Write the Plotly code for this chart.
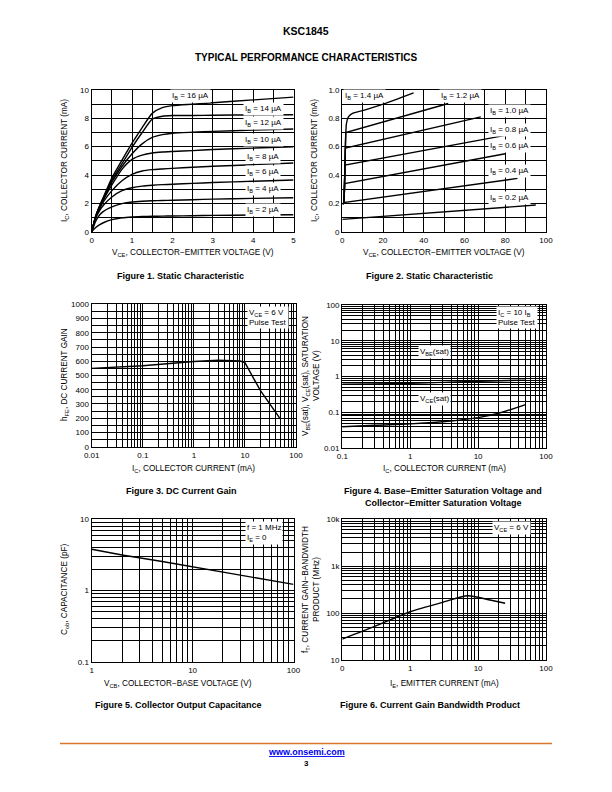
import plotly.graph_objects as go
import math

# ---------------- DATA ----------------
# Figure 1: Static characteristic (IC vs VCE, low voltage)
vce1 = [0, 0.1, 0.2, 0.3, 0.5, 0.75, 1.0, 1.25, 1.5, 1.75, 2.0, 2.5, 3, 4, 5]
ic1_16 = [0, 1.1, 1.85, 2.5, 3.8, 5.05, 6.25, 7.35, 8.35, 8.75, 8.9, 9.0, 9.1, 9.3, 9.5]
ic1_14 = [0, 1.1, 1.85, 2.45, 3.65, 4.8, 5.95, 7.0, 7.95, 8.15, 8.2, 8.2, 8.22, 8.24, 8.25]
ic1_12 = [0, 1.1, 1.8, 2.4, 3.5, 4.6, 5.5, 6.2, 6.65, 6.85, 6.95, 7.02, 7.08, 7.17, 7.25]
ic1_10 = [0, 1.1, 1.75, 2.3, 3.3, 4.4, 5.1, 5.4, 5.55, 5.62, 5.66, 5.72, 5.8, 5.9, 6.0]
ic1_8 = [0, 1.05, 1.65, 2.15, 2.9, 3.6, 4.05, 4.28, 4.38, 4.43, 4.47, 4.55, 4.62, 4.73, 4.85]
ic1_6 = [0, 0.95, 1.5, 1.9, 2.45, 2.9, 3.1, 3.22, 3.28, 3.32, 3.35, 3.41, 3.47, 3.56, 3.65]
ic1_4 = [0, 0.75, 1.2, 1.45, 1.75, 1.98, 2.1, 2.15, 2.18, 2.2, 2.22, 2.26, 2.3, 2.35, 2.4]
ic1_2 = [0, 0.3, 0.5, 0.65, 0.85, 0.98, 1.04, 1.07, 1.09, 1.1, 1.11, 1.13, 1.15, 1.18, 1.2]
ib1_labels = ["16", "14", "12", "10", "8", "6", "4", "2"]
ib1_label_y = [9.6, 8.66, 7.7, 6.5, 5.3, 4.2, 3.0, 1.55]

# Figure 2: Static characteristic (IC vs VCE, high voltage)
vce2_02 = [0, 95]
ic2_02 = [0.087, 0.188]
vce2_04 = [0.3, 0.6, 86]
ic2_04 = [0.19, 0.205, 0.376]
vce2_06 = [0.8, 1.2, 80]
ic2_06 = [0.21, 0.34, 0.55]
vce2_08 = [0.8, 1.3, 80]
ic2_08 = [0.21, 0.47, 0.68]
vce2_10 = [0.9, 1.5, 68]
ic2_10 = [0.21, 0.59, 0.81]
vce2_12 = [0.9, 1.7, 52]
ic2_12 = [0.21, 0.70, 0.905]
vce2_14 = [0.9, 1.5, 2, 3, 5, 10, 20, 35]
ic2_14 = [0.21, 0.6, 0.76, 0.81, 0.835, 0.855, 0.9, 0.98]
ib2_labels = ["1.4", "1.2", "1.0", "0.8", "0.6", "0.4", "0.2"]
ib2_label_x = [11, 58, 82, 82, 82, 82, 82]
ib2_label_y = [0.96, 0.96, 0.855, 0.72, 0.607, 0.43, 0.235]

# Figure 3: DC current gain
ic3 = [0.01, 0.1, 1, 3, 8, 10, 20, 48]
hfe3 = [550, 568, 598, 607, 602, 590, 395, 200]

# Figure 4: saturation voltages
ic4 = [0.1, 0.3, 1, 3, 10, 20, 50]
vbe4 = [0.62, 0.63, 0.65, 0.69, 0.74, 0.77, 0.80]
vce4 = [0.040, 0.044, 0.048, 0.055, 0.072, 0.095, 0.165]

# Figure 5: collector output capacitance
vcb5 = [1, 2, 5, 10, 20, 50, 100]
cob5 = [3.8, 3.15, 2.55, 2.15, 1.8, 1.45, 1.22]

# Figure 6: current gain bandwidth product
ie6 = [0.1, 0.3, 1, 3, 7, 15, 25]
ft6 = [28, 52, 107, 170, 235, 190, 162]

# Tick labels
x1_ticks = [0, 1, 2, 3, 4, 5]
y1_ticks = [0, 2, 4, 6, 8, 10]
x2_ticks = [0, 20, 40, 60, 80, 100]
y2_ticks = [0, 0.2, 0.4, 0.6, 0.8, 1.0]
y3_ticks = list(range(0, 1001, 100))
x6_ticktext = ["0", "1", "10", "100"]
y6_ticktext = ["10", "100", "1k", "10k"]

# ---------------- HELPERS ----------------
W, H = 600, 780      # figure size; page body adds an 8 px offset
OFF = 8
FONT = "Liberation Sans, Arial, Helvetica, sans-serif"


def px(x):
    return (x - OFF) / W


def py(y):
    return 1 - (y - OFF) / H


def linear_grid(lo, hi, step, label_vals, fmt):
    vals, txt = [], []
    n = int(round((hi - lo) / step))
    for i in range(n + 1):
        v = round(lo + i * step, 6)
        vals.append(v)
        lab = ""
        for lv in label_vals:
            if abs(lv - v) < 1e-9:
                lab = fmt(lv)
        txt.append(lab)
    return vals, txt


def log_grid(lo_exp, hi_exp, texts=None):
    vals, txt = [], []
    k = 0
    for e in range(lo_exp, hi_exp + 1):
        for m in range(1, 10):
            if e == hi_exp and m > 1:
                break
            v = m * 10 ** e
            vals.append(float(f"{v:.6g}"))
            if m == 1:
                if texts is not None:
                    txt.append(texts[k])
                else:
                    txt.append(f"{v:g}")
                k += 1
            else:
                txt.append("")
    return vals, txt


def axis(domain, anchor, tickvals, ticktext, rng, typ="linear"):
    return dict(
        domain=domain, anchor=anchor, type=typ, range=rng,
        tickmode="array", tickvals=tickvals, ticktext=ticktext,
        showgrid=True, gridcolor="black", gridwidth=0.9,
        showline=True, linecolor="black", linewidth=1.4, mirror=True,
        zeroline=False, ticks="", ticklen=0,
        tickfont=dict(family=FONT, size=8, color="black"),
        automargin=False, fixedrange=True,
    )


fig = go.Figure()
line = dict(color="black", width=1.4)

# Figure 1 traces
for ys in [ic1_16, ic1_14, ic1_12, ic1_10, ic1_8, ic1_6, ic1_4, ic1_2]:
    fig.add_trace(go.Scatter(x=vce1, y=ys, mode="lines", line=dict(line, shape="spline", smoothing=0.6),
                             xaxis="x", yaxis="y", showlegend=False, hoverinfo="skip"))
# Figure 2 traces
for xs, ys in [(vce2_02, ic2_02), (vce2_04, ic2_04), (vce2_06, ic2_06), (vce2_08, ic2_08),
               (vce2_10, ic2_10), (vce2_12, ic2_12)]:
    fig.add_trace(go.Scatter(x=xs, y=ys, mode="lines", line=line,
                             xaxis="x2", yaxis="y2", showlegend=False, hoverinfo="skip"))
fig.add_trace(go.Scatter(x=vce2_14, y=ic2_14, mode="lines", line=dict(line, shape="spline", smoothing=0.5),
                         xaxis="x2", yaxis="y2", showlegend=False, hoverinfo="skip"))
# Figure 3
fig.add_trace(go.Scatter(x=ic3, y=hfe3, mode="lines", line=line,
                         xaxis="x3", yaxis="y3", showlegend=False, hoverinfo="skip"))
# Figure 4
fig.add_trace(go.Scatter(x=ic4, y=vbe4, mode="lines", line=dict(line, shape="spline"),
                         xaxis="x4", yaxis="y4", showlegend=False, hoverinfo="skip"))
fig.add_trace(go.Scatter(x=ic4, y=vce4, mode="lines", line=dict(line, shape="spline"),
                         xaxis="x4", yaxis="y4", showlegend=False, hoverinfo="skip"))
# Figure 5
fig.add_trace(go.Scatter(x=vcb5, y=cob5, mode="lines", line=line,
                         xaxis="x5", yaxis="y5", showlegend=False, hoverinfo="skip"))
# Figure 6
fig.add_trace(go.Scatter(x=ie6, y=ft6, mode="lines", line=dict(line, shape="spline", smoothing=0.6),
                         xaxis="x6", yaxis="y6", showlegend=False, hoverinfo="skip"))

# Domains (pixel boxes on the page)
L1, R1 = 91.7, 293.5
L2, R2 = 342.3, 546
d_row1 = [py(231.7), py(90)]
d_row2a = [py(446.7), py(304.3)]
d_row2b = [py(448.3), py(305)]
d_row3a = [py(661.7), py(519.3)]
d_row3b = [py(660), py(519.3)]

xv, xt = linear_grid(0, 5, 0.5, x1_ticks, lambda v: f"{v:g}")
yv, yt = linear_grid(0, 10, 1, y1_ticks, lambda v: f"{v:g}")
x2v, x2t = linear_grid(0, 100, 10, x2_ticks, lambda v: f"{v:g}")
y2v, y2t = linear_grid(0, 1.0, 0.1, y2_ticks, lambda v: "0" if v == 0 else f"{v:.1f}")
x3v, x3t = log_grid(-2, 2)
y3v, y3t = linear_grid(0, 1000, 50, y3_ticks, lambda v: f"{v:g}")
x4v, x4t = log_grid(-1, 2)
y4v, y4t = log_grid(-2, 2)
x5v, x5t = log_grid(0, 2)
y5v, y5t = log_grid(-1, 1)
x6v, x6t = log_grid(-1, 2, x6_ticktext)
y6v, y6t = log_grid(1, 4, y6_ticktext)

fig.update_layout(
    width=W, height=H, margin=dict(l=0, r=0, t=0, b=0),
    paper_bgcolor="white", plot_bgcolor="white",
    font=dict(family=FONT, color="black"),
    xaxis=axis([px(L1), px(R1)], "y", xv, xt, [0, 5]),
    yaxis=axis(d_row1, "x", yv, yt, [0, 10]),
    xaxis2=axis([px(L2), px(R2)], "y2", x2v, x2t, [0, 100]),
    yaxis2=axis(d_row1, "x2", y2v, y2t, [0, 1.0]),
    xaxis3=axis([px(L1), px(296)], "y3", x3v, x3t, [-2, 2], "log"),
    yaxis3=axis(d_row2a, "x3", y3v, y3t, [0, 1000]),
    xaxis4=axis([px(L2), px(R2)], "y4", x4v, x4t, [-1, 2], "log"),
    yaxis4=axis(d_row2b, "x4", y4v, y4t, [-2, 2], "log"),
    xaxis5=axis([px(L1), px(R1)], "y5", x5v, x5t, [0, 2], "log"),
    yaxis5=axis(d_row3a, "x5", y5v, y5t, [-1, 1], "log"),
    xaxis6=axis([px(L2), px(R2)], "y6", x6v, x6t, [-1, 2], "log"),
    yaxis6=axis(d_row3b, "x6", y6v, y6t, [1, 4], "log"),
)

ann = []
TF = dict(family=FONT, size=8, color="black")
AX = 8.2     # axis title size
CAP = 9      # caption size


def txt(x, y, text, size=AX, bold=False, angle=0, xanchor="center", yanchor="middle", color="black", align="center"):
    t = f"<b>{text}</b>" if bold else text
    ann.append(dict(x=px(x), y=py(y), xref="paper", yref="paper", text=t, showarrow=False,
                    font=dict(family=FONT, size=size, color=color), textangle=angle,
                    xanchor=xanchor, yanchor=yanchor, align=align))


def lab(x, y, xr, yr, text, xanchor="center", yanchor="middle", align="center"):
    ann.append(dict(x=x, y=y, xref=xr, yref=yr, text=text, showarrow=False, font=TF,
                    bgcolor="white", borderpad=1, xanchor=xanchor, yanchor=yanchor, align=align))


# Header
txt(306, 31, "KSC1845", size=10.5, bold=True)
txt(306, 57, "TYPICAL PERFORMANCE CHARACTERISTICS", size=10, bold=True)

# Figure 1 texts
for i, (t, yy) in enumerate(zip(ib1_labels, ib1_label_y)):
    xx = 2.45 if i == 0 else 4.25
    lab(xx, yy, "x", "y", f"I<sub>B</sub> = {t} µA")
txt(193, 253, "V<sub>CE</sub>, COLLECTOR−EMITTER VOLTAGE (V)")
txt(65, 161, "I<sub>C</sub>, COLLECTOR CURRENT (mA)", angle=-90)
txt(180, 276, "Figure 1. Static Characteristic", size=CAP, bold=True)

# Figure 2 texts
for t, xx, yy in zip(ib2_labels, ib2_label_x, ib2_label_y):
    lab(xx, yy, "x2", "y2", f"I<sub>B</sub> = {t} µA")
txt(444, 253, "V<sub>CE</sub>, COLLECTOR−EMITTER VOLTAGE (V)")
txt(315, 161, "I<sub>C</sub>, COLLECTOR CURRENT (mA)", angle=-90)
txt(429, 276, "Figure 2. Static Characteristic", size=CAP, bold=True)

# Figure 3 texts
lab(math.log10(11), 985, "x3", "y3", "V<sub>CE</sub> = 6 V<br>Pulse Test", xanchor="left", yanchor="top", align="left")
txt(193, 469, "I<sub>C</sub>, COLLECTOR CURRENT (mA)")
txt(65, 375, "h<sub>FE</sub>, DC CURRENT GAIN", angle=-90)
txt(181, 491, "Figure 3. DC Current Gain", size=CAP, bold=True)

# Figure 4 texts
lab(1.27, 1.98, "x4", "y4", "I<sub>C</sub> = 10 I<sub>B</sub><br>Pulse Test", xanchor="left", yanchor="top", align="left")
lab(0.36, 0.70, "x4", "y4", "V<sub>BE</sub>(sat)")
lab(0.36, -0.62, "x4", "y4", "V<sub>CE</sub>(sat)")
txt(444, 469, "I<sub>C</sub>, COLLECTOR CURRENT (mA)")
txt(306, 376, "V<sub>BE</sub>(sat), V<sub>CE</sub>(sat), SATURATION", angle=-90)
txt(316, 376, "VOLTAGE (V)", angle=-90)
txt(443, 491, "Figure 4. Base−Emitter Saturation Voltage and", size=CAP, bold=True)
txt(443, 503, "Collector−Emitter Saturation Voltage", size=CAP, bold=True)

# Figure 5 texts
lab(1.52, 0.97, "x5", "y5", "f = 1 MHz<br>I<sub>E</sub> = 0", xanchor="left", yanchor="top", align="left")
txt(178, 684, "V<sub>CB</sub>, COLLECTOR−BASE VOLTAGE (V)")
txt(65, 590, "C<sub>ob</sub>, CAPACITANCE (pF)", angle=-90)
txt(178, 705, "Figure 5. Collector Output Capacitance", size=CAP, bold=True)

# Figure 6 texts
lab(1.2, 3.97, "x6", "y6", "V<sub>CE</sub> = 6 V", xanchor="left", yanchor="top", align="left")
txt(444, 684, "I<sub>E</sub>, EMITTER CURRENT (mA)")
txt(306, 590, "f<sub>T</sub>, CURRENT GAIN−BANDWIDTH", angle=-90)
txt(316, 590, "PRODUCT (MHz)", angle=-90)
txt(430, 705, "Figure 6. Current Gain Bandwidth Product", size=CAP, bold=True)

# Footer
txt(306, 752, "<u>www.onsemi.com</u>", size=9, bold=True, color="#0000EE")
txt(306, 763, "3", size=8, bold=True)

fig.update_layout(annotations=ann)
fig.add_shape(type="line", xref="paper", yref="paper", x0=px(60), x1=px(552), y0=py(743.5), y1=py(743.5),
              line=dict(color="#D9782D", width=1.6))

fig.write_html("out.html")
